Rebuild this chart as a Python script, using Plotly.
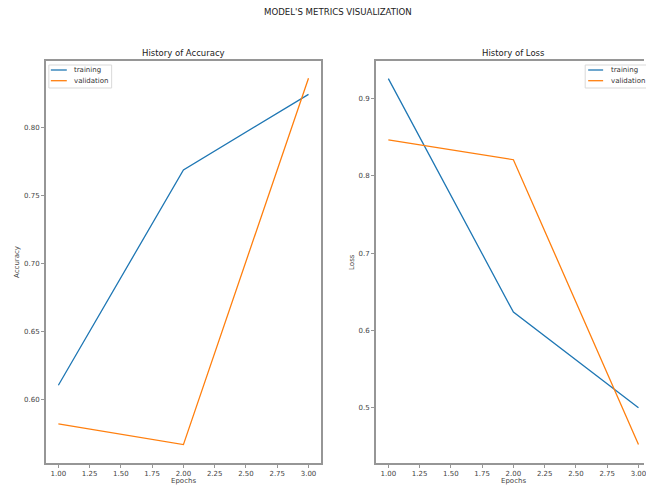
import plotly.graph_objects as go

epochs = [1, 2, 3]
acc_train = [0.6106, 0.7687, 0.8242]
acc_val = [0.5822, 0.5670, 0.8360]
loss_train = [0.9260, 0.6237, 0.5000]
loss_val = [0.8466, 0.8210, 0.4525]

x_ticks = [1.00, 1.25, 1.50, 1.75, 2.00, 2.25, 2.50, 2.75, 3.00]
acc_ticks = [0.60, 0.65, 0.70, 0.75, 0.80]
loss_ticks = [0.5, 0.6, 0.7, 0.8, 0.9]
series_names = ["training", "validation"]

W, H = 646, 486
BLUE = "#1f77b4"
ORANGE = "#ff7f0e"
FONT = "DejaVu Sans"
SPINE = "#969696"

def px_x(p):
    return p / W

def px_y(p):
    return 1 - p / H

fig = go.Figure()
fig.add_trace(go.Scatter(x=epochs, y=acc_train, mode="lines", name=series_names[0],
                         line=dict(color=BLUE, width=1.3), xaxis="x", yaxis="y"))
fig.add_trace(go.Scatter(x=epochs, y=acc_val, mode="lines", name=series_names[1],
                         line=dict(color=ORANGE, width=1.3), xaxis="x", yaxis="y"))
fig.add_trace(go.Scatter(x=epochs, y=loss_train, mode="lines", name=series_names[0],
                         line=dict(color=BLUE, width=1.3), xaxis="x2", yaxis="y2"))
fig.add_trace(go.Scatter(x=epochs, y=loss_val, mode="lines", name=series_names[1],
                         line=dict(color=ORANGE, width=1.3), xaxis="x2", yaxis="y2"))

tickfont = dict(family=FONT, size=7, color="#444")
ydom = [px_y(462.7), px_y(61)]

common_x = dict(showgrid=False, zeroline=False, showline=True, linecolor=SPINE, linewidth=1.6,
                ticks="outside", ticklen=3, tickcolor=SPINE, tickwidth=1, tickfont=tickfont,
                tickvals=x_ticks, tickformat=".2f", mirror=True, ticklabeloverflow="allow")
common_y = dict(showgrid=False, zeroline=False, showline=True, linecolor=SPINE, linewidth=1.6,
                ticks="outside", ticklen=3, tickcolor=SPINE, tickwidth=1, tickfont=tickfont)

# right panel is cut at the page edge: its x-range ends where the page ends
right_end = 0.9 + 2.2 * (646 - 377) / (653 - 377)

annotations = [
    dict(text="MODEL'S METRICS VISUALIZATION", x=px_x(339), y=px_y(12),
         font=dict(family=FONT, size=8.6, color="#222")),
    dict(text="History of Accuracy", x=px_x(184), y=px_y(53),
         font=dict(family=FONT, size=8.5, color="#222")),
    dict(text="History of Loss", x=px_x(515), y=px_y(53),
         font=dict(family=FONT, size=8.5, color="#222")),
    dict(text="Epochs", x=px_x(184), y=px_y(481), font=dict(family=FONT, size=7, color="#444")),
    dict(text="Epochs", x=px_x(515), y=px_y(481), font=dict(family=FONT, size=7, color="#444")),
    dict(text="Accuracy", x=px_x(17), y=px_y(262), textangle=-90,
         font=dict(family=FONT, size=7, color="#444")),
    dict(text="Loss", x=px_x(353), y=px_y(262), textangle=-90,
         font=dict(family=FONT, size=7, color="#444")),
]
for a in annotations:
    a.update(xref="paper", yref="paper", showarrow=False, xanchor="center", yanchor="middle")

shapes = []
# hand-drawn legends (matplotlib-style compact boxes)
for (bx0, bx1, lx0, lx1, tx) in [(49, 112, 51, 67, 72), (587, 660, 590, 605, 611)]:
    shapes.append(dict(type="rect", xref="paper", yref="paper",
                       x0=px_x(bx0), x1=px_x(bx1), y0=px_y(88), y1=px_y(65),
                       line=dict(color="#d9d9d9", width=1), fillcolor="rgba(255,255,255,0.8)",
                       layer="above"))
    for name, col, ly in [(series_names[0], BLUE, 70), (series_names[1], ORANGE, 80.7)]:
        shapes.append(dict(type="line", xref="paper", yref="paper",
                           x0=px_x(lx0), x1=px_x(lx1), y0=px_y(ly), y1=px_y(ly),
                           line=dict(color=col, width=1.3), layer="above"))
        annotations.append(dict(text=name, x=px_x(tx), y=px_y(ly), xref="paper", yref="paper",
                                showarrow=False, xanchor="left", yanchor="middle",
                                font=dict(family=FONT, size=7, color="#333")))

fig.update_layout(
    width=W, height=H,
    margin=dict(l=0, r=0, t=0, b=0),
    paper_bgcolor="white", plot_bgcolor="white",
    showlegend=False,
    xaxis=dict(domain=[px_x(46), px_x(322)], range=[0.9, 3.1], anchor="y", **common_x),
    yaxis=dict(domain=ydom, range=[0.5537, 0.8487], anchor="x", tickvals=acc_ticks,
               tickformat=".2f", mirror=True, **common_y),
    xaxis2=dict(domain=[px_x(377), 1.0], range=[0.9, right_end], anchor="y2", **common_x),
    yaxis2=dict(domain=ydom, range=[0.4288, 0.9488], anchor="x2", tickvals=loss_ticks,
                tickformat=".1f", mirror=False, **common_y),
    annotations=annotations,
    shapes=shapes,
)

fig.write_html("out.html", config={"displayModeBar": False},
               post_script="document.body.style.margin='0';document.body.style.overflow='hidden';")
